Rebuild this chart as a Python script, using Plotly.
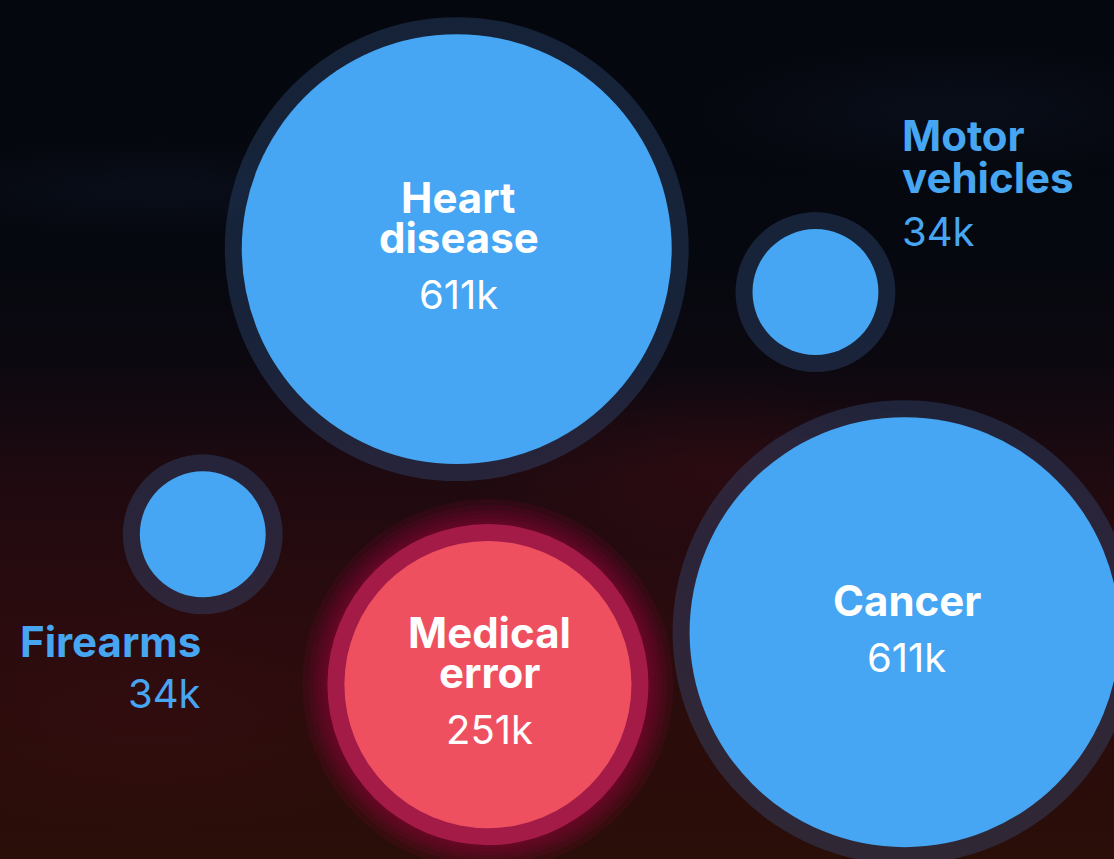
import base64
import numpy as np
import plotly.graph_objects as go

# ---------------- data ----------------
causes = ["Heart disease", "Cancer", "Medical error", "Motor vehicles", "Firearms"]
name_lines = [["Heart", "disease"], ["Cancer"], ["Medical", "error"], ["Motor", "vehicles"], ["Firearms"]]
deaths_k = [611, 611, 251, 34, 34]
value_labels = ["611k", "611k", "251k", "34k", "34k"]
pos_x = [41.0, 81.2, 43.8, 73.2, 18.2]
pos_y = [71.0, 26.4, 20.3, 66.0, 37.8]
highlight = [False, False, True, False, False]
label_place = ["inside", "inside", "inside", "right", "below"]

# ---------------- styles ----------------
W, H = 1114, 859
BLUE = "#46a6f4"
RED = "#ef5060"
LABEL_BLUE = "#47a6f2"
FONT = "Inter, 'Noto Sans', sans-serif"
FS_NAME = 42
FS_VAL = 40
CAP = 29
RING = 17

radii = [16 + 8.05 * np.sqrt(v) for v in deaths_k]

# background image (sunset sky)
svg = f"""<svg xmlns='http://www.w3.org/2000/svg' width='{W}' height='{H}' viewBox='0 0 {W} {H}'>
<defs>
<linearGradient id='g' x1='0' y1='0' x2='0' y2='1'>
<stop offset='0' stop-color='#05070e'/>
<stop offset='0.30' stop-color='#06080f'/>
<stop offset='0.42' stop-color='#0c0810'/>
<stop offset='0.55' stop-color='#1e0a10'/>
<stop offset='0.72' stop-color='#2a0b0e'/>
<stop offset='1' stop-color='#2a0e08'/>
</linearGradient>
<radialGradient id='c1' cx='0.5' cy='0.5' r='0.5'>
<stop offset='0' stop-color='#122038' stop-opacity='0.25'/>
<stop offset='1' stop-color='#122038' stop-opacity='0'/>
</radialGradient>
<radialGradient id='c2' cx='0.5' cy='0.5' r='0.5'>
<stop offset='0' stop-color='#3a0c12' stop-opacity='0.45'/>
<stop offset='1' stop-color='#3a0c12' stop-opacity='0'/>
</radialGradient>
</defs>
<rect width='{W}' height='{H}' fill='url(#g)'/>
<ellipse cx='160' cy='190' rx='260' ry='50' fill='url(#c1)'/>
<ellipse cx='950' cy='110' rx='260' ry='70' fill='url(#c1)'/>
<ellipse cx='150' cy='720' rx='300' ry='120' fill='url(#c2)'/>
<ellipse cx='720' cy='470' rx='250' ry='90' fill='url(#c2)'/>
</svg>"""
bg_src = "data:image/svg+xml;base64," + base64.b64encode(svg.encode()).decode()

fig = go.Figure()

# glow for highlighted bubble
hx = [x for x, h in zip(pos_x, highlight) if h]
hy = [y for y, h in zip(pos_y, highlight) if h]
hr = [r for r, h in zip(radii, highlight) if h]
for extra in [42, 36, 31, 27, 23, 20]:
    fig.add_trace(go.Scatter(
        x=hx, y=hy, mode="markers", hoverinfo="skip", showlegend=False,
        marker=dict(size=[2 * (r + extra) for r in hr], color="rgba(140,6,58,0.14)",
                    opacity=1, line=dict(width=0)),
    ))

# rings
ring_colors = ["rgba(168,28,74,0.95)" if h else "rgba(60,100,155,0.30)" for h in highlight]
fig.add_trace(go.Scatter(
    x=pos_x, y=pos_y, mode="markers", hoverinfo="skip", showlegend=False,
    marker=dict(size=[2 * (r + RING) for r in radii], color=ring_colors, opacity=1, line=dict(width=0)),
))

# bubbles
fig.add_trace(go.Scatter(
    x=pos_x, y=pos_y, mode="markers", showlegend=False,
    text=causes, customdata=value_labels, hovertemplate="%{text}: %{customdata}<extra></extra>",
    marker=dict(size=[2 * r for r in radii], color=[RED if h else BLUE for h in highlight],
                opacity=1, line=dict(width=0)),
))

# labels
LS = 40   # line spacing between name lines
GAP = 57  # baseline gap between last name line and value
annotations = []
for i, lines in enumerate(name_lines):
    n = len(lines)
    if label_place[i] == "inside":
        height = 28 + LS * (n - 1) + GAP
        top = -height / 2 - 3
        baselines = [top + 28 + LS * k for k in range(n)]
        vbase = baselines[-1] + GAP
        color = "white"
        xanchor, xshift, align = "center", 2, "center"
    elif label_place[i] == "right":
        baselines = [-142 + 42 * k for k in range(n)]
        vbase = baselines[-1] + 54
        color = LABEL_BLUE
        xanchor, xshift, align = "left", 85, "left"
    else:
        baselines = [122 + 42 * k for k in range(n)]
        vbase = baselines[-1] + 52
        color = LABEL_BLUE
        xanchor, xshift, align = "right", 0, "right"
    for k, ln in enumerate(lines):
        annotations.append(dict(
            x=pos_x[i], y=pos_y[i], xref="x", yref="y", text=f"<b>{ln}</b>", showarrow=False,
            xanchor=xanchor, yanchor="middle", xshift=xshift, yshift=-(baselines[k] - CAP / 2),
            align=align, font=dict(family=FONT, size=FS_NAME, color=color),
        ))
    annotations.append(dict(
        x=pos_x[i], y=pos_y[i], xref="x", yref="y", text=value_labels[i], showarrow=False,
        xanchor=xanchor, yanchor="middle", xshift=xshift, yshift=-(vbase - CAP / 2),
        align=align, font=dict(family=FONT, size=FS_VAL, color=color),
    ))

fig.update_layout(
    width=W, height=H, margin=dict(l=0, r=0, t=0, b=0),
    paper_bgcolor="#07090f", plot_bgcolor="rgba(0,0,0,0)",
    xaxis=dict(range=[0, 100], visible=False, fixedrange=True),
    yaxis=dict(range=[0, 100], visible=False, fixedrange=True),
    images=[dict(source=bg_src, xref="paper", yref="paper", x=0, y=1, sizex=1, sizey=1,
                 sizing="stretch", layer="below", xanchor="left", yanchor="top")],
    annotations=annotations,
    showlegend=False,
)

fig.write_html("out.html", config={"displayModeBar": False},
               post_script="document.body.style.margin='0';document.body.style.background='#07090f';")
